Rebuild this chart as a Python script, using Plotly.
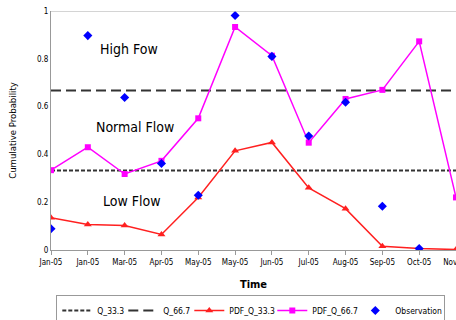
import plotly.graph_objects as go

labels = ["Jan-05", "Jan-05", "Mar-05", "Apr-05", "May-05", "May-05",
          "Jun-05", "Jul-05", "Aug-05", "Sep-05", "Oct-05", "Nov-05"]
q333 = 0.333
q667 = 0.667
pdf_q333 = [0.135, 0.107, 0.102, 0.065, 0.22, 0.415, 0.45, 0.26, 0.173, 0.016, 0.006, 0.002]
pdf_q667 = [0.334, 0.43, 0.318, 0.373, 0.551, 0.933, 0.813, 0.449, 0.632, 0.67, 0.873, 0.22]
observation = [0.089, 0.897, 0.638, 0.362, 0.229, 0.981, 0.81, 0.477, 0.618, 0.183, 0.006, None]

x = list(range(len(labels)))
FONT = "DejaVu Sans Condensed, DejaVu Sans"

fig = go.Figure()
fig.add_trace(go.Scatter(x=x, y=[q333] * len(x), mode="lines", name="Q_33.3", legendwidth=21,
                         line=dict(color="#333333", width=2, dash="4px,2px")))
fig.add_trace(go.Scatter(x=x, y=[q667] * len(x), mode="lines", name="Q_66.7", legendwidth=21,
                         line=dict(color="#333333", width=2, dash="10px,5px")))
fig.add_trace(go.Scatter(x=x, y=pdf_q333, mode="lines+markers", name="PDF_Q_33.3", legendwidth=38,
                         line=dict(color="#ff2020", width=1.5),
                         marker=dict(symbol="triangle-up", size=7, color="#ff2020")))
fig.add_trace(go.Scatter(x=x, y=pdf_q667, mode="lines+markers", name="PDF_Q_66.7", legendwidth=38,
                         line=dict(color="#ff00ff", width=1.5),
                         marker=dict(symbol="square", size=6, color="#ff00ff")))
fig.add_trace(go.Scatter(x=x, y=observation, mode="markers", name="Observation", legendwidth=44,
                         marker=dict(symbol="diamond", size=7, color="#0000ff")))

for txt, xx, yy in [("High Fow", 2.13, 0.84), ("Normal Flow", 2.28, 0.514), ("Low Flow", 2.2, 0.203)]:
    fig.add_annotation(x=xx, y=yy, text=txt, showarrow=False,
                       font=dict(family=FONT, size=14, color="#000000"))

fig.update_layout(
    width=456, height=320,
    margin=dict(l=51, r=0, t=11, b=70),
    paper_bgcolor="white", plot_bgcolor="white",
    font=dict(family=FONT, color="#000000"),
    showlegend=True,
    legend=dict(orientation="h", xref="container", yref="container",
                x=0.55, xanchor="center", y=0.078, yanchor="top",
                bordercolor="#999999", borderwidth=1, font=dict(size=8.5, family=FONT),
                itemwidth=30, tracegroupgap=0),
    xaxis=dict(range=[0, 11], tickmode="array", tickvals=x, ticktext=labels,
               automargin=False, ticklabeloverflow="allow",
               showgrid=False, zeroline=False, showline=True, linecolor="#999999",
               linewidth=1, ticks="outside", ticklen=4, tickcolor="#999999",
               tickfont=dict(size=8),
               title=dict(text="<b>Time</b>", font=dict(size=11), standoff=14)),
    yaxis=dict(range=[0, 1], tickvals=[0, 0.2, 0.4, 0.6, 0.8, 1],
               ticktext=["0", "0.2", "0.4", "0.6", "0.8", "1"], automargin=False,
               showgrid=False, zeroline=False, showline=True, linecolor="#999999",
               ticks="", tickfont=dict(size=8),
               title=dict(text="Cumulative Probability", font=dict(size=9.5), standoff=18)),
)
fig.add_shape(type="line", xref="paper", yref="y", x0=0, x1=1, y0=1, y1=1,
              line=dict(color="#aaaaaa", width=1))

fig.write_html("out.html", config={"displayModeBar": False},
               post_script="document.body.style.margin='0';")
